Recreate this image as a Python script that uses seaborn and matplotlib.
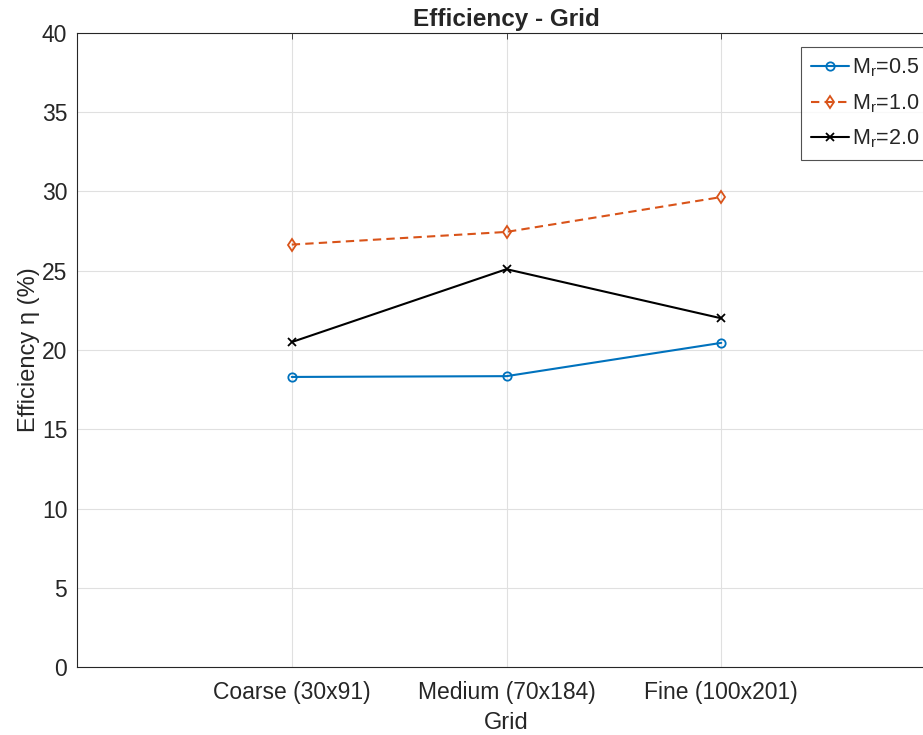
import matplotlib
matplotlib.use("Agg")
import matplotlib.pyplot as plt
import seaborn as sns
import pandas as pd

grids = ["Coarse (30x91)", "Medium (70x184)", "Fine (100x201)"]
eff_mr05 = [18.3, 18.35, 20.45]
eff_mr10 = [26.65, 27.45, 29.65]
eff_mr20 = [20.5, 25.1, 22.0]
series_labels = [r"$\mathregular{M_r}$=0.5", r"$\mathregular{M_r}$=1.0", r"$\mathregular{M_r}$=2.0"]

sns.set_style("white")
plt.rcParams["font.family"] = ["Liberation Sans", "DejaVu Sans"]

fig = plt.figure(figsize=(9.23, 7.35), dpi=100)
# axes extends slightly past the right border
ax = fig.add_axes([77 / 923, 1 - 667 / 735, (936 - 77) / 923, (667 - 33) / 735])

colors = ["#0072BD", "#D95319", "black"]
linestyles = ["-", (0, (4, 2.5)), "-"]
markers = ["o", "d", "x"]
values = [eff_mr05, eff_mr10, eff_mr20]

for lab, vals, c, ls, m in zip(series_labels, values, colors, linestyles, markers):
    df = pd.DataFrame({"pos": range(len(grids)), "eff": vals})
    sns.lineplot(data=df, x="pos", y="eff", ax=ax, color=c, linestyle=ls,
                 marker=m, markersize=6, markerfacecolor="none",
                 markeredgecolor=c, markeredgewidth=1.3, linewidth=1.5, label=lab)

ax.set_xlim(-1, 3)
ax.set_ylim(0, 40)
ax.set_xticks(range(len(grids)))
ax.set_xticklabels(grids)
ax.set_yticks(range(0, 41, 5))
ax.tick_params(axis="both", labelsize=16.5, colors="#262626", length=4,
               direction="in", width=0.6, top=True, right=True)
ax.tick_params(axis="x", pad=10)
ax.tick_params(axis="y", pad=7)
ax.grid(True, color="#e0e0e0", linewidth=0.8)
ax.set_axisbelow(True)
for s in ax.spines.values():
    s.set_color("#262626")
    s.set_linewidth(0.8)
ax.set_xlabel("Grid", fontsize=17, color="#262626", labelpad=6)
ax.set_ylabel("Efficiency η (%)", fontsize=17, color="#262626", labelpad=1)
ax.set_title("Efficiency - Grid", fontsize=17.5, fontweight="bold", pad=5)

leg = ax.legend(loc="upper left", bbox_to_anchor=(801 / 923, 1 - 47 / 735),
                bbox_transform=fig.transFigure, fontsize=15.5, frameon=True,
                fancybox=False, edgecolor="#262626", handlelength=1.8,
                borderaxespad=0, handletextpad=0.1, labelspacing=0.6, borderpad=0.45)
leg.get_frame().set_linewidth(0.8)

fig.savefig("out.png", dpi=100)
